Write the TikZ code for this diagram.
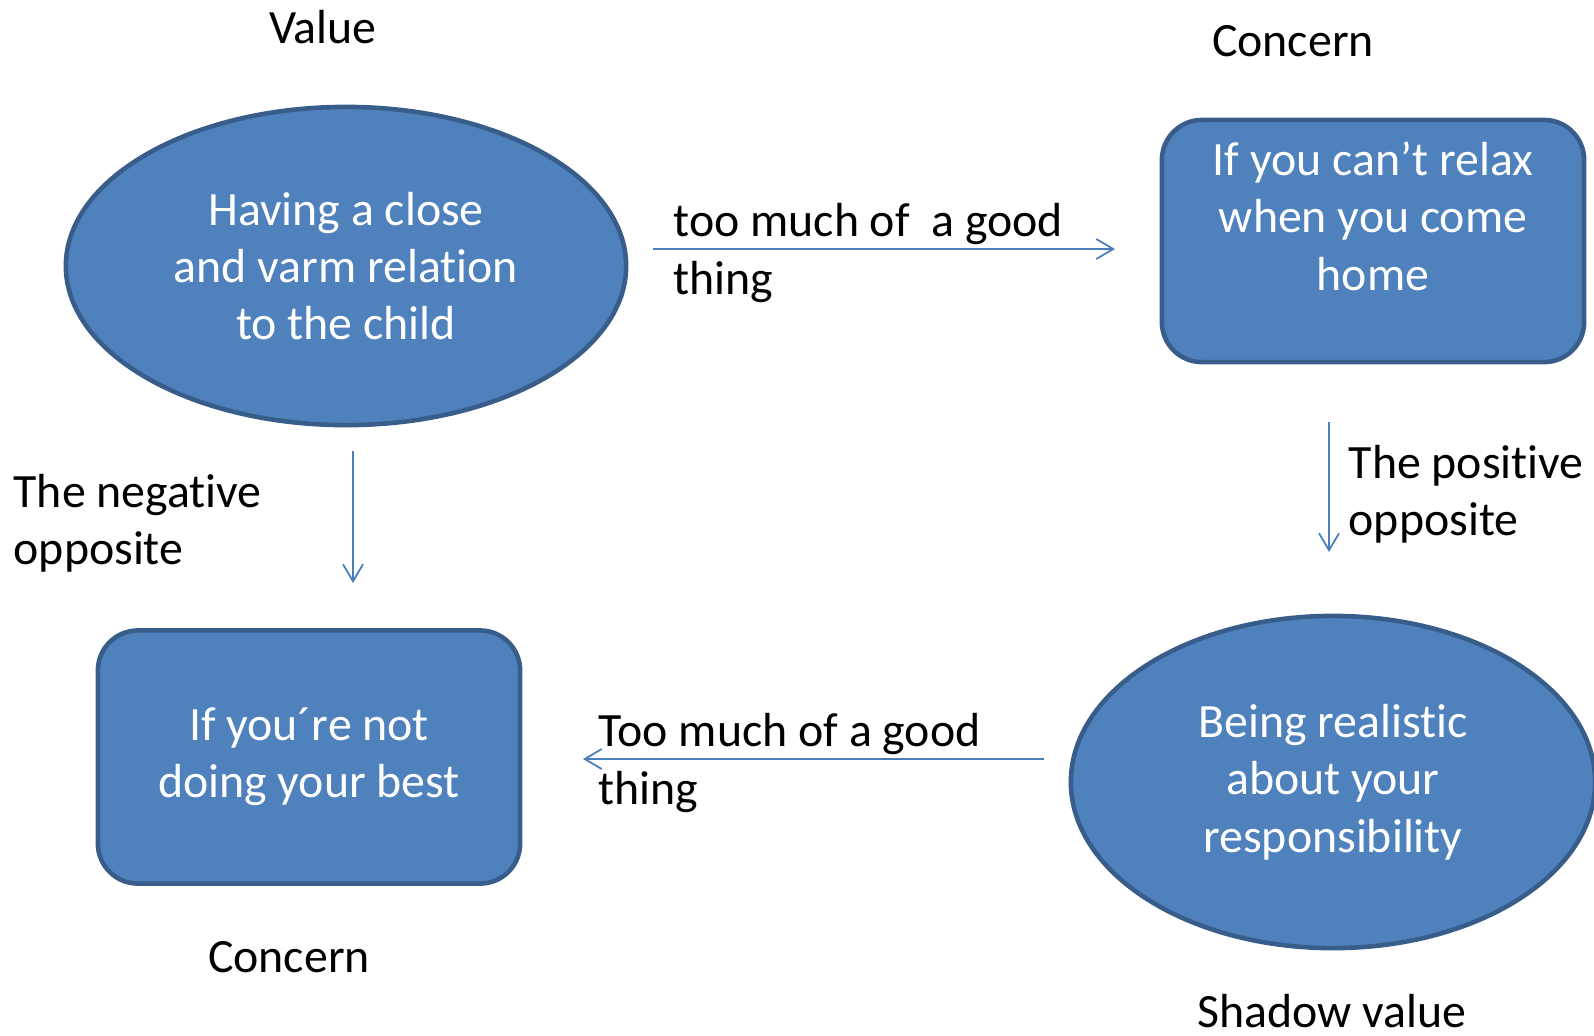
\documentclass[tikz,border=0pt]{standalone}
\usepackage{fontspec}
\setmainfont[Ligatures=NoCommon]{Carlito}
\usetikzlibrary{shapes.geometric,arrows.meta}
\definecolor{boxblue}{HTML}{4F81BD}
\definecolor{boxedge}{HTML}{385D8A}
\definecolor{linkblue}{HTML}{4A7EBB}
\tikzset{
  every node/.style={font=\fontsize{13.6pt}{16.3pt}\selectfont},
  valuebox/.style={ellipse, fill=boxblue, draw=boxedge, line width=1.3pt,
    text=white, align=center, inner sep=0pt},
  concernbox/.style={rectangle, rounded corners=0.4cm, fill=boxblue,
    draw=boxedge, line width=1.3pt, text=white, align=center, inner sep=0pt},
  linklabel/.style={anchor=west, align=left, inner sep=0pt},
  link/.style={draw=linkblue, line width=0.5pt,
    -{Straight Barb[length=0.17cm,width=0.2cm]}}
}
\begin{document}
\begin{tikzpicture}[x=0.01cm,y=-0.01cm]
  \useasboundingbox (0,0) rectangle (1594,1035);
  % the four boxes
  \node[valuebox, minimum width=5.6cm, minimum height=3.18cm] (close) at (346,266)
    {Having a close\\and varm relation\\to the child};
  \node[concernbox, minimum width=4.22cm, minimum height=2.42cm] (relax) at (1373,241) {};
  \node[text=white, align=center] (relaxtext) at (1373,216)
    {If you can’t relax\\when you come\\home};
  \node[concernbox, minimum width=4.22cm, minimum height=2.53cm] (best) at (309,757)
    {If you´re not\\doing your best};
  \node[valuebox, minimum width=5.24cm, minimum height=3.32cm] (realistic) at (1333,782)
    {Being realistic\\about your\\responsibility};
  % headings
  \node (valuehead) at (323,27) {Value};
  \node (concernhead) at (1293,41) {Concern};
  \node (concernfoot) at (289,957) {Concern};
  \node (shadowfoot) at (1332,1011) {Shadow value};
  % arrows
  \coordinate (goodA) at (653,249);   \coordinate (goodB) at (1115,249);
  \coordinate (negA) at (353,451);    \coordinate (negB) at (353,583);
  \coordinate (posA) at (1329,422);   \coordinate (posB) at (1329,552);
  \coordinate (tooA) at (1044,759);   \coordinate (tooB) at (583,759);
  \draw[link] (goodA) -- (goodB);
  \draw[link] (negA) -- (negB);
  \draw[link] (posA) -- (posB);
  \draw[link] (tooA) -- (tooB);
  \node[linklabel] (goodlabel) at (673,253) {too much of~ a good\\thing};
  \node[linklabel] (neglabel) at (13,523) {The negative\\opposite};
  \node[linklabel] (poslabel) at (1348,494) {The positive\\opposite};
  \node[linklabel] (toolabel) at (598,763) {Too much of a good\\thing};
\end{tikzpicture}
\end{document}
